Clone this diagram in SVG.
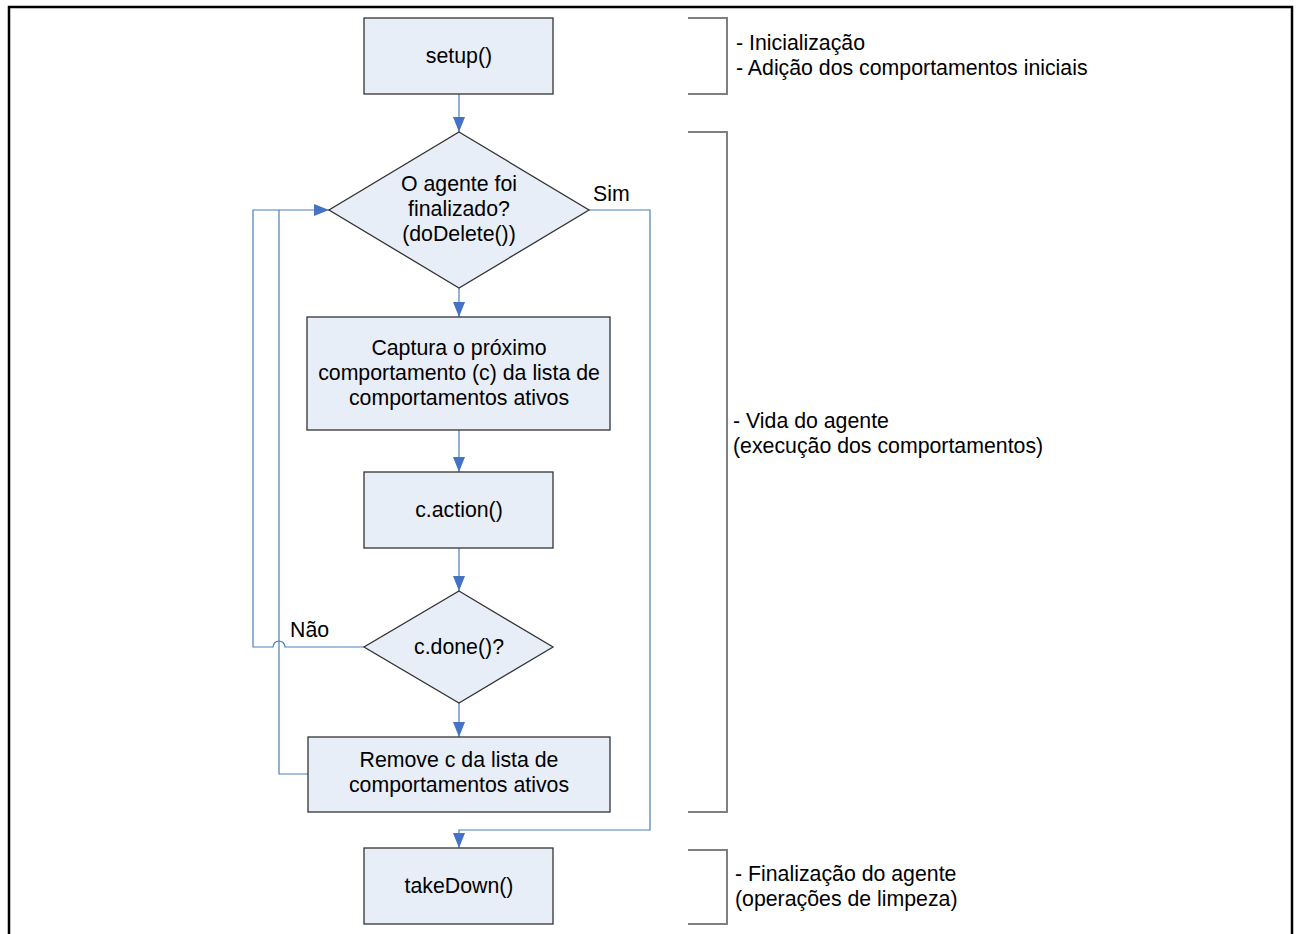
<svg xmlns="http://www.w3.org/2000/svg" width="1298" height="934" viewBox="0 0 1298 934">
<style>
.box{fill:#e8eef7;stroke:#333;stroke-width:1.3}
.t{font-family:"Liberation Sans",Arial,sans-serif;font-size:21.3px;fill:#000}
.c{text-anchor:middle}
.conn{fill:none;stroke:#4a7ebb;stroke-width:1.2}
.br{fill:none;stroke:#808080;stroke-width:2}
</style>
<defs>
<marker id="ah" viewBox="0 0 15 12" refX="15" refY="6" markerWidth="15" markerHeight="12" markerUnits="userSpaceOnUse" orient="auto">
<path d="M0,0 L15,6 L0,12 z" fill="#4472c4"/>
</marker>
</defs>
<rect width="1298" height="934" fill="#fff"/>
<path d="M9,934 V7 H1292 V934" fill="none" stroke="#000" stroke-width="2.5"/>

<g id="connectors">
<path class="conn" d="M459,94 V132" marker-end="url(#ah)"/>
<path class="conn" d="M459,288 V317" marker-end="url(#ah)"/>
<path class="conn" d="M459,430 V472" marker-end="url(#ah)"/>
<path class="conn" d="M459,548 V591" marker-end="url(#ah)"/>
<path class="conn" d="M459,703 V737" marker-end="url(#ah)"/>
<path class="conn" d="M589,210 H650 V830 H459 V848" marker-end="url(#ah)"/>
<path class="conn" d="M364,647 H285 A6,6 0 0 0 273,647 H253 V210 H329" marker-end="url(#ah)"/>
<path class="conn" d="M308,774 H279 V210"/>
<text class="t" x="593" y="201">Sim</text>
<text class="t" x="290" y="637">Não</text>
</g>

<g id="setup">
<rect class="box" x="364" y="18" width="189" height="76"/>
<text class="t c" x="459" y="63">setup()</text>
</g>

<g id="finalizado">
<polygon class="box" points="459,132 589,210 459,288 329,210"/>
<text class="t c" x="459" y="191">O agente foi</text>
<text class="t c" x="459" y="216">finalizado?</text>
<text class="t c" x="459" y="241">(doDelete())</text>
</g>

<g id="captura">
<rect class="box" x="307" y="317" width="303" height="113"/>
<text class="t c" x="459" y="355">Captura o próximo</text>
<text class="t c" x="459" y="380">comportamento (c) da lista de</text>
<text class="t c" x="459" y="405">comportamentos ativos</text>
</g>

<g id="action">
<rect class="box" x="364" y="472" width="189" height="76"/>
<text class="t c" x="459" y="517">c.action()</text>
</g>

<g id="done">
<polygon class="box" points="459,591 553,647 459,703 364,647"/>
<text class="t c" x="459" y="654">c.done()?</text>
</g>

<g id="remove">
<rect class="box" x="308" y="737" width="302" height="75"/>
<text class="t c" x="459" y="767">Remove c da lista de</text>
<text class="t c" x="459" y="792">comportamentos ativos</text>
</g>

<g id="takedown">
<rect class="box" x="364" y="848" width="189" height="76"/>
<text class="t c" x="459" y="893">takeDown()</text>
</g>

<g id="bracket-init">
<path class="br" d="M688,18 H727 V94 H688"/>
<text class="t" x="736" y="50">- Inicialização</text>
<text class="t" x="736" y="75">- Adição dos comportamentos iniciais</text>
</g>

<g id="bracket-vida">
<path class="br" d="M688,132 H727 V812 H688"/>
<text class="t" x="733" y="428">- Vida do agente</text>
<text class="t" x="733" y="453">(execução dos comportamentos)</text>
</g>

<g id="bracket-fim">
<path class="br" d="M688,850 H727 V924 H688"/>
<text class="t" x="735" y="881">- Finalização do agente</text>
<text class="t" x="735" y="906">(operações de limpeza)</text>
</g>
</svg>
